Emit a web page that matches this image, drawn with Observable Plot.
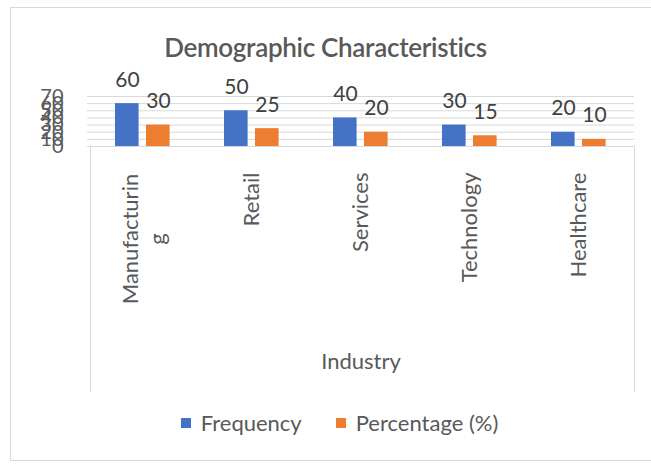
<!DOCTYPE html>
<html>
<head>
<meta charset="utf-8">
<script src="https://cdn.jsdelivr.net/npm/d3@7"></script>
<script src="https://cdn.jsdelivr.net/npm/@observablehq/plot@0.6"></script>
<style>
  html, body { margin: 0; padding: 0; background: #fff; }
  body { width: 651px; height: 464px; position: relative; overflow: hidden; font-family: Lato, "Open Sans", sans-serif; color: #595959; }
  #outer { position: absolute; left: 10px; top: 7px; width: 700px; height: 454px; border: 1px solid #d9d9d9; box-sizing: border-box; }
  #inner { position: absolute; left: 90px; top: 146px; width: 545px; height: 246px; border-left: 1px solid #d9d9d9; border-right: 1px solid #d9d9d9; box-sizing: border-box; }
  #title { position: absolute; left: 0; width: 651px; top: 31px; text-align: center; font-size: 26px; line-height: 32px; color: #595959; font-weight: 600; letter-spacing: -0.3px; }
  #chart { position: absolute; left: 0; top: 0; }
  #legend { position: absolute; left: 14px; width: 651px; top: 410px; display: flex; justify-content: center; gap: 34px; font-size: 22px; line-height: 26px; }
  .item { display: flex; align-items: center; gap: 10px; }
  .sw { width: 10px; height: 10px; display: inline-block; }
</style>
</head>
<body>
<div id="outer"></div>
<div id="inner"></div>
<div id="chart"></div>
<div id="title"></div>
<div id="legend"></div>
<script>
const titleText = "Demographic Characteristics";
const categories = ["Manufacturing", "Retail", "Services", "Technology", "Healthcare"];
const categoryLabels = ["Manufacturin\ng", "Retail", "Services", "Technology", "Healthcare"];
const frequency = [60, 50, 40, 30, 20];
const percentage = [30, 25, 20, 15, 10];
const seriesNames = ["Frequency", "Percentage (%)"];
const seriesColors = ["#4472C4", "#ED7D31"];
const yTicks = [0, 10, 20, 30, 40, 50, 60, 70];
const xTitle = "Industry";

const freqData = categories.map((c, i) => ({category: c, value: frequency[i]}));
const pctData = categories.map((c, i) => ({category: c, value: percentage[i]}));
const labelData = categories.map((c, i) => ({category: c, label: categoryLabels[i]}));
const singleLabels = labelData.filter(d => !d.label.includes("\n"));
const multiLabels = labelData.filter(d => d.label.includes("\n"));

const chart = Plot.plot({
  width: 651,
  height: 464,
  marginLeft: 87,
  marginRight: 17,
  marginTop: 96,
  marginBottom: 318,
  style: {fontFamily: "Lato, 'Open Sans', sans-serif", color: "#595959", background: "transparent"},
  x: {domain: categories, padding: 0, axis: null},
  y: {domain: [0, 70], ticks: yTicks, grid: false, axis: null},
  marks: [
    Plot.gridY(yTicks, {stroke: "#d9d9d9", strokeOpacity: 1, strokeWidth: 1}),
    Plot.axisY(yTicks, {tickSize: 0, tickPadding: 24, fontSize: 20, fill: "#595959", label: null}),
    Plot.barY(freqData, {x: "category", y: "value", fill: seriesColors[0], insetLeft: 27, insetRight: 58.4}),
    Plot.barY(pctData, {x: "category", y: "value", fill: seriesColors[1], insetLeft: 58, insetRight: 27.4}),
    Plot.text(freqData, {x: "category", y: "value", text: d => String(d.value), dx: -15.5, dy: -17, lineAnchor: "bottom", fontSize: 21, fill: "#404040"}),
    Plot.text(pctData, {x: "category", y: "value", text: d => String(d.value), dx: 15.5, dy: -17, lineAnchor: "bottom", fontSize: 21, fill: "#404040"}),
    Plot.text(singleLabels, {x: "category", text: "label", frameAnchor: "bottom", dy: 26, rotate: -90, textAnchor: "end", lineAnchor: "middle", fontSize: 22, fill: "#595959"}),
    Plot.text(multiLabels, {x: "category", text: "label", frameAnchor: "bottom", dy: 92.5, rotate: -90, textAnchor: "middle", lineAnchor: "middle", lineHeight: 1.2, fontSize: 22, fill: "#595959"}),
    Plot.text([xTitle], {text: d => d, frameAnchor: "bottom", dy: 215, textAnchor: "middle", lineAnchor: "middle", fontSize: 22, fill: "#595959"})
  ]
});
document.getElementById("chart").appendChild(chart);
document.getElementById("title").textContent = titleText;

const legend = document.getElementById("legend");
seriesNames.forEach((name, i) => {
  const item = document.createElement("span");
  item.className = "item";
  const sw = document.createElement("span");
  sw.className = "sw";
  sw.style.background = seriesColors[i];
  const t = document.createElement("span");
  t.textContent = name;
  item.appendChild(sw);
  item.appendChild(t);
  legend.appendChild(item);
});
</script>
</body>
</html>
